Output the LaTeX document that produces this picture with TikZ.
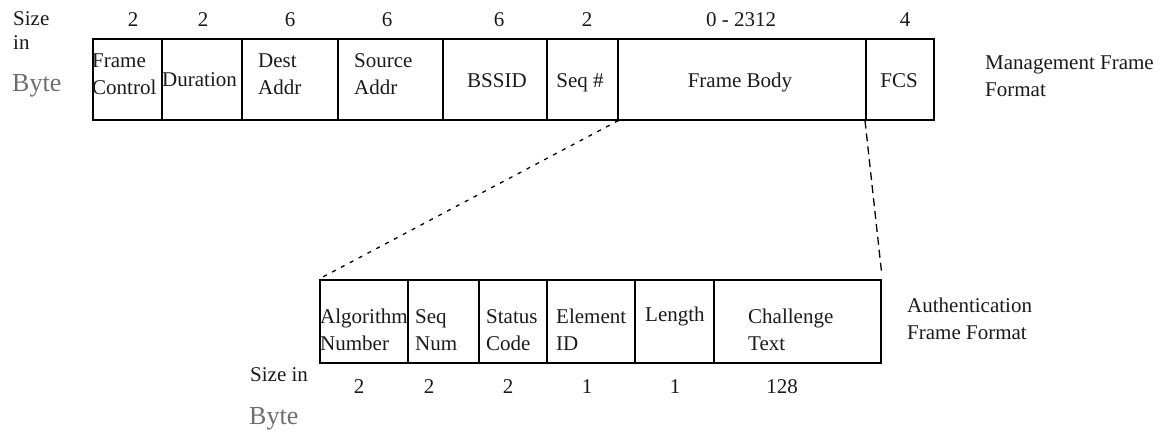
\documentclass[tikz,border=0pt]{standalone}
\usepackage{fontspec}
\setmainfont{Liberation Serif}
\definecolor{ink}{HTML}{1A1A1A}
\definecolor{bytegray}{HTML}{6E6E6E}
\begin{document}
\begin{tikzpicture}[x=1pt,y=-1pt,
  cell/.style={draw=black, line width=1.5pt, rectangle, inner sep=0pt,
               anchor=north west},
  topcell/.style={cell, minimum height=81pt},
  botcell/.style={cell, minimum height=83pt},
  lbl/.style={inner sep=0pt, text=ink, align=left,
              font=\fontsize{21}{27}\selectfont},
  num/.style={lbl, anchor=base},
  big/.style={inner sep=0pt, text=bytegray, anchor=base west,
              font=\fontsize{26}{30}\selectfont},
  dashA/.style={line width=1.3pt, dash pattern=on 4pt off 6pt},
  dashB/.style={line width=1.3pt, dash pattern=on 8pt off 5pt}]
\useasboundingbox (0,0) rectangle (1165,437);

% management frame cells
\node[topcell, minimum width=69pt]  (fc)   at (92,38)  {};
\node[topcell, minimum width=80pt]  (dur)  at (161,38) {};
\node[topcell, minimum width=96pt]  (dst)  at (241,38) {};
\node[topcell, minimum width=105pt] (src)  at (337,38) {};
\node[topcell, minimum width=104pt] (bss)  at (442,38) {};
\node[topcell, minimum width=71pt]  (seq)  at (546,38) {};
\node[topcell, minimum width=248pt] (body) at (617,38) {};
\node[topcell, minimum width=68pt]  (fcs)  at (865,38) {};

% management frame labels (base anchor sits on the last line)
\node[lbl, anchor=base west] (tfc)   at (92,94)   {Frame\\Control};
\node[lbl, anchor=base west] (tdur)  at (162,86)  {Duration};
\node[lbl, anchor=base west] (tdst)  at (258,94)  {Dest\\Addr};
\node[lbl, anchor=base west] (tsrc)  at (354,94)  {Source\\Addr};
\node[lbl, anchor=base]      (tbss)  at (497,87)  {BSSID};
\node[lbl, anchor=base]      (tseq)  at (580,87)  {Seq \#};
\node[lbl, anchor=base]      (tbody) at (740,87)  {Frame Body};
\node[lbl, anchor=base]      (tfcs)  at (899,87)  {FCS};

% field sizes above
\node[lbl, anchor=base west] (size1) at (13,25) {Size};
\node[lbl, anchor=base west] (in1)   at (13,49) {in};
\node[big] (byte1) at (12,91) {Byte};
\node[num] (n1) at (133,26) {2};
\node[num] (n2) at (203,26) {2};
\node[num] (n3) at (290,26) {6};
\node[num] (n4) at (387,26) {6};
\node[num] (n5) at (499,26) {6};
\node[num] (n6) at (587,26) {2};
\node[num] (n7) at (741,26) {0 - 2312};
\node[num] (n8) at (905,26) {4};

\node[lbl, anchor=base west] (mgmt) at (985,96) {Management Frame\\Format};

% authentication frame cells
\node[botcell, minimum width=88pt]  (alg)  at (319,279) {};
\node[botcell, minimum width=71pt]  (snum) at (407,279) {};
\node[botcell, minimum width=68pt]  (stat) at (478,279) {};
\node[botcell, minimum width=88pt]  (elem) at (546,279) {};
\node[botcell, minimum width=79pt]  (len)  at (634,279) {};
\node[botcell, minimum width=167pt] (chal) at (713,279) {};

% authentication frame labels
\node[lbl, anchor=base west] (talg)  at (320,350) {Algorithm\\Number};
\node[lbl, anchor=base west] (tsnum) at (415,350) {Seq\\Num};
\node[lbl, anchor=base west] (tstat) at (486,350) {Status\\Code};
\node[lbl, anchor=base west] (telem) at (556,350) {Element\\ID};
\node[lbl, anchor=base west] (tlen)  at (645,321) {Length};
\node[lbl, anchor=base west] (tchal) at (748,350) {Challenge\\Text};

\node[lbl, anchor=base west] (auth) at (907,339) {Authentication\\Frame Format};

% field sizes below
\node[lbl, anchor=base west] (size2) at (250,381) {Size in};
\node[big] (byte2) at (249,424) {Byte};
\node[num] (m1) at (359,393) {2};
\node[num] (m2) at (429,393) {2};
\node[num] (m3) at (508,393) {2};
\node[num] (m4) at (587,393) {1};
\node[num] (m5) at (675,393) {1};
\node[num] (m6) at (782,393) {128};

% frame body expanded into the authentication frame
\coordinate (chaltip) at ([yshift=7pt]chal.north east);
\draw[dashA] (seq.south east) -- (alg.north west);
\draw[dashB] (fcs.south west) -- (chaltip);
\end{tikzpicture}
\end{document}
